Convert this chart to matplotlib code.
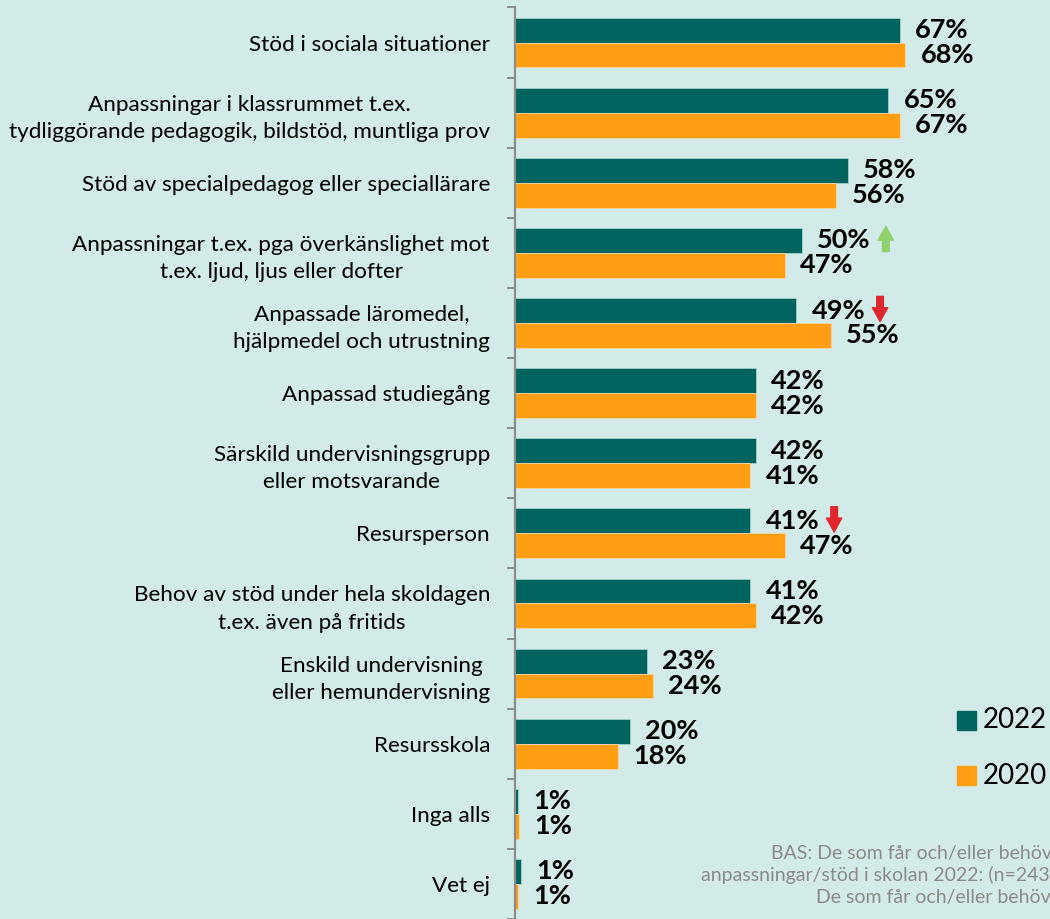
import matplotlib
matplotlib.use('Agg')
import matplotlib.pyplot as plt
from matplotlib.patches import Rectangle
import numpy as np

# data
categories = [
    'Stöd i sociala situationer',
    'Anpassningar i klassrummet t.ex.\ntydliggörande pedagogik, bildstöd, muntliga prov',
    'Stöd av specialpedagog eller speciallärare',
    'Anpassningar t.ex. pga överkänslighet mot\nt.ex. ljud, ljus eller dofter',
    'Anpassade läromedel,\nhjälpmedel och utrustning',
    'Anpassad studiegång',
    'Särskild undervisningsgrupp\neller motsvarande',
    'Resursperson',
    'Behov av stöd under hela skoldagen\nt.ex. även på fritids',
    'Enskild undervisning\neller hemundervisning',
    'Resursskola',
    'Inga alls',
    'Vet ej',
]
values_2022 = [67, 65, 58, 50, 49, 42, 42, 41, 41, 23, 20, 0.5, 1.0]
values_2020 = [68, 67, 56, 47, 55, 42, 41, 47, 42, 24, 18, 0.7, 0.6]
labels_2022 = ['67%', '65%', '58%', '50%', '49%', '42%', '42%', '41%', '41%', '23%', '20%', '1%', '1%']
labels_2020 = ['68%', '67%', '56%', '47%', '55%', '42%', '41%', '47%', '42%', '24%', '18%', '1%', '1%']
# significant change markers on the 2022 bars: +1 up, -1 down
changes = {3: 1, 4: -1, 7: -1}
series_names = ['2022', '2020']
note_lines = [
    'BAS: De som får och/eller behöv',
    'anpassningar/stöd i skolan 2022: (n=243',
    'De som får och/eller behöv',
]

BG = '#d3ebe8'
TEAL = '#02645f'
ORANGE = '#ff9e12'
GREEN = '#8fd16a'
RED = '#e0262e'
GRAY = '#8c8c8c'

plt.rcParams['font.family'] = ['Lato', 'DejaVu Sans']

W, H = 1050, 919
fig = plt.figure(figsize=(W / 100, H / 100), dpi=100, facecolor=BG)
ax = fig.add_axes([515 / W, 0, (W - 515) / W, 1 - 7.5 / H])
ax.set_facecolor(BG)

y = np.arange(len(categories))
bh = 0.355
ax.barh(y - bh / 2, values_2022, height=bh, color=TEAL, edgecolor='#9fd3cb', linewidth=0.6)
ax.barh(y + bh / 2, values_2020, height=bh, color=ORANGE, edgecolor='#f7d9a8', linewidth=0.6)

for i in range(len(categories)):
    ax.annotate(labels_2022[i], (values_2022[i], y[i] - bh / 2), xytext=(11, 0),
                textcoords='offset points', va='center', ha='left',
                fontsize=19.5, fontweight='bold', color='black')
    ax.annotate(labels_2020[i], (values_2020[i], y[i] + bh / 2), xytext=(11, 0),
                textcoords='offset points', va='center', ha='left',
                fontsize=19.5, fontweight='bold', color='black')

# change arrows next to the 2022 labels
for i, d in changes.items():
    xa = values_2022[i] + 14.6
    top, bot = y[i] - 0.38, y[i] - 0.02
    if d > 0:
        start, end, col = bot, top, GREEN
    else:
        start, end, col = top, bot, RED
    ax.annotate('', xy=(xa, end), xytext=(xa, start),
                arrowprops=dict(arrowstyle='simple,head_width=0.55,head_length=0.5,tail_width=0.24',
                                color=col, shrinkA=0, shrinkB=0, mutation_scale=20))

ax.set_xlim(0, (W - 515) / 5.74)
ax.set_ylim((H - 42) / 70.5, -0.5)

for s in ['top', 'right', 'bottom']:
    ax.spines[s].set_visible(False)
ax.spines['left'].set_color(GRAY)
ax.spines['left'].set_linewidth(1.6)
ax.set_xticks([])

ax.set_yticks(np.arange(len(categories) + 1) - 0.5)
ax.set_yticklabels([])
ax.tick_params(axis='y', which='major', length=6, width=1.4, color=GRAY, direction='out')
ax.set_yticks(y, minor=True)
ax.set_yticklabels(categories, minor=True, fontsize=16.2)
ax.tick_params(axis='y', which='minor', length=0, pad=18)
for lbl in ax.get_yticklabels(minor=True):
    lbl.set_multialignment('center')
    lbl.set_linespacing(1.45)

# legend drawn as squares + text at the right edge
for k, (name, col) in enumerate(zip(series_names, [TEAL, ORANGE])):
    yc = 720.5 + k * 55
    fig.add_artist(Rectangle((957 / W, 1 - (yc + 9.5) / H), 19 / W, 19 / H,
                             transform=fig.transFigure, color=col))
    fig.text(983 / W, 1 - yc / H, name, fontsize=20, va='center', ha='left')

# base note (cut off at the right edge like the original)
for k, (line, x0) in enumerate(zip(note_lines, [771, 701, 816])):
    fig.text(x0 / W, 1 - (853 + k * 22) / H, line, fontsize=14, color='#8a8a8a',
             va='center', ha='left')

fig.savefig('out.png', dpi=100, facecolor=BG)
